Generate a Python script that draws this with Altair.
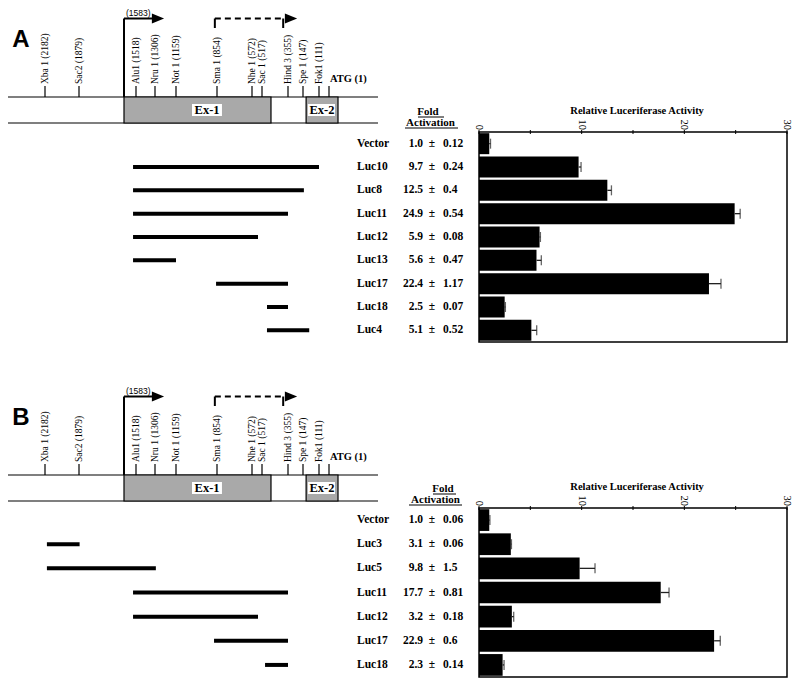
import altair as alt
import pandas as pd

# ---------------- data ----------------
# restriction sites on the promoter map (bp upstream of ATG)
site_labels = ["Xba 1 (2182)", "Sac2 (1879)", "Alu1 (1518)", "Nru 1 (1306)", "Not 1 (1159)",
               "Sma 1 (854)", "Nhe 1 (572)", "Sac 1 (517)", "Hind 3 (355)", "Spe 1 (147)", "Fok1 (111)"]
site_bp = [2182, 1879, 1518, 1306, 1159, 854, 572, 517, 355, 147, 111]
atg_bp = 1
tss_bp = 1583
tss_label = "(1583)"

# map is drawn schematically (not to scale): piecewise scale breakpoints
map_domain = [2182, 1879, 1583, 1518, 1306, 1159, 854, 572, 517, 355, 147, 111, 1]
map_range = [37, 71, 116, 128, 147, 168, 209, 244, 254, 280, 295, 311, 321]

backbone_bp = [2512, -538]
exon_names = ["Ex-1", "Ex-2"]
exon_start = [1583, 140]
exon_end = [461, -98]
exon_label_bp = [928, 78]
exon_box_start = [1040, 136]
exon_box_end = [814, -65]

arrow1_end = 1339
arrow1_head = 1285
arrow2_start = 870
arrow2_end = 385
arrow2_head = 313

# panel A
rows_A = ["Vector", "Luc10", "Luc8", "Luc11", "Luc12", "Luc13", "Luc17", "Luc18", "Luc4"]
fold_A = [1.0, 9.7, 12.5, 24.9, 5.9, 5.6, 22.4, 2.5, 5.1]
err_A = [0.12, 0.24, 0.4, 0.54, 0.08, 0.47, 1.17, 0.07, 0.52]
con_rows_A = ["Luc10", "Luc8", "Luc11", "Luc12", "Luc13", "Luc17", "Luc18", "Luc4"]
con_start_A = [1534, 1534, 1534, 1534, 1534, 861, 486, 486]
con_end_A = [111, 145, 355, 539, 1159, 355, 355, 133]

# panel B
rows_B = ["Vector", "Luc3", "Luc5", "Luc11", "Luc12", "Luc17", "Luc18"]
fold_B = [1.0, 3.1, 9.8, 17.7, 3.2, 22.9, 2.3]
err_B = [0.06, 0.06, 1.5, 0.81, 0.18, 0.6, 0.14]
con_rows_B = ["Luc3", "Luc5", "Luc11", "Luc12", "Luc17", "Luc18"]
con_start_B = [2165, 2165, 1534, 1534, 876, 498]
con_end_B = [1875, 1300, 355, 539, 355, 355]

axis_ticks = [0, 5, 10, 15, 20, 25, 30]
axis_labels = [0, 10, 20, 30]
x_title = "Relative Luceriferase Activity"
header_words = ["Fold", "Activation"]

SERIF = "Liberation Serif"
SANS = "Liberation Sans"
GRAY = "#a9a9a9"


# ---------------- helpers ----------------
def mapx(field):
    return alt.X(f"{field}:Q",
                 scale=alt.Scale(domain=map_domain, range=map_range, nice=False, zero=False),
                 axis=None)


def barx(field):
    return alt.X(f"{field}:Q", scale=alt.Scale(domain=[0, 30], range=[471, 779], nice=False),
                 axis=None)


def rowy(rows, rng):
    return alt.Y("row:N", scale=alt.Scale(domain=rows, range=rng, paddingInner=0.1, paddingOuter=0.05),
                 axis=None, sort=rows)


def map_layers(off, letter):
    L = []
    # backbone lines
    for yy in (89, 115):
        L.append(alt.Chart(pd.DataFrame({"a": [backbone_bp[0]], "b": [backbone_bp[1]]}))
                 .mark_rule(color="black", strokeWidth=1.2)
                 .encode(x=mapx("a"), x2="b:Q", y=alt.value(yy + off)))
    ex = pd.DataFrame({"name": exon_names, "s": exon_start, "e": exon_end,
                       "bs": exon_box_start, "be": exon_box_end, "c": exon_label_bp})
    L.append(alt.Chart(ex).mark_rect(fill=GRAY, stroke="black", strokeWidth=1.2)
             .encode(x=mapx("s"), x2="e:Q", y=alt.value(89 + off), y2=alt.value(115 + off)))
    L.append(alt.Chart(ex).mark_rect(fill="white")
             .encode(x=mapx("bs"), x2="be:Q", y=alt.value(96 + off), y2=alt.value(108 + off)))
    L.append(alt.Chart(ex).mark_text(font=SERIF, fontWeight="bold", fontSize=12.5, color="black",
                                     baseline="middle", align="center")
             .encode(x=mapx("c"), y=alt.value(102 + off), text="name:N"))
    # site ticks
    sites = pd.DataFrame({"bp": site_bp + [atg_bp], "label": site_labels + ["ATG  (1)"]})
    L.append(alt.Chart(sites).mark_rule(color="black", strokeWidth=1.2)
             .encode(x=mapx("bp"), y=alt.value(78 + off), y2=alt.value(89 + off)))
    L.append(alt.Chart(sites.iloc[:-1]).mark_text(font=SERIF, fontSize=9.5, angle=270, align="left",
                                                 baseline="middle", color="black")
             .encode(x=mapx("bp"), y=alt.value(76 + off), text="label:N"))
    L.append(alt.Chart(sites.iloc[-1:]).mark_text(font=SERIF, fontSize=10.5, fontWeight="bold",
                                                 align="left", baseline="middle", dx=1, color="black")
             .encode(x=mapx("bp"), y=alt.value(71 + off), text="label:N"))
    # transcription start arrow (solid)
    L.append(alt.Chart(pd.DataFrame({"a": [tss_bp]})).mark_rule(color="black", strokeWidth=2)
             .encode(x=mapx("a"), y=alt.value(10.5 + off), y2=alt.value(89 + off)))
    L.append(alt.Chart(pd.DataFrame({"a": [tss_bp], "b": [arrow1_end]})).mark_rule(color="black", strokeWidth=2)
             .encode(x=mapx("a"), x2="b:Q", y=alt.value(10.5 + off)))
    # dashed arrow
    L.append(alt.Chart(pd.DataFrame({"a": [arrow2_start], "b": [arrow2_end]}))
             .mark_rule(color="black", strokeWidth=2, strokeDash=[6, 4])
             .encode(x=mapx("a"), x2="b:Q", y=alt.value(10.5 + off)))
    L.append(alt.Chart(pd.DataFrame({"a": [arrow2_start, arrow2_end]})).mark_rule(color="black", strokeWidth=2)
             .encode(x=mapx("a"), y=alt.value(10.5 + off), y2=alt.value(20 + off)))
    # arrow heads
    L.append(alt.Chart(pd.DataFrame({"a": [arrow1_head, arrow2_head]}))
             .mark_point(shape="M-1,-0.8L1,0L-1,0.8Z", filled=True, size=150, color="black", opacity=1)
             .encode(x=mapx("a"), y=alt.value(10.5 + off)))
    L.append(alt.Chart(pd.DataFrame({"a": [tss_bp], "t": [tss_label]}))
             .mark_text(font=SANS, fontSize=8.5, align="left", baseline="middle", dx=2, color="black")
             .encode(x=mapx("a"), y=alt.value(4.5 + off), text="t:N"))
    L.append(alt.Chart(pd.DataFrame({"t": [letter]}))
             .mark_text(font=SANS, fontSize=24, fontWeight="bold", align="center", baseline="middle", color="black")
             .encode(x=alt.value(13), y=alt.value(32 + off), text="t:N"))
    return L


def data_layers(rows, fold, err, crows, cs, ce, rng, hdr):
    L = []
    y = rowy(rows, rng)
    top, bot = rng
    df = pd.DataFrame({"row": rows, "v": fold, "e": err,
                       "vs": [f"{v:.1f}" for v in fold], "es": [str(e) for e in err],
                       "pm": ["\u00b1"] * len(rows)})
    df["hi"] = df["v"] + df["e"]
    con = pd.DataFrame({"row": crows, "s": cs, "e": ce})
    # construct lines
    L.append(alt.Chart(con).mark_rule(color="black", strokeWidth=4, strokeCap="butt")
             .encode(x=mapx("s"), x2="e:Q", y=y))
    # labels and fold text
    txt = dict(font=SERIF, fontWeight="bold", fontSize=11.5, baseline="middle", color="black")
    L.append(alt.Chart(df).mark_text(align="left", **txt).encode(x=alt.value(349), y=y, text="row:N"))
    L.append(alt.Chart(df).mark_text(align="right", **txt).encode(x=alt.value(415), y=y, text="vs:N"))
    L.append(alt.Chart(df).mark_text(align="center", **txt).encode(x=alt.value(424), y=y, text="pm:N"))
    L.append(alt.Chart(df).mark_text(align="left", **txt).encode(x=alt.value(435), y=y, text="es:N"))
    # header "Fold Activation" with underlines
    for word, (hx, hy, u0, u1) in zip(header_words, hdr):
        L.append(alt.Chart(pd.DataFrame({"t": [word]}))
                 .mark_text(align="center", font=SERIF, fontWeight="bold", fontSize=11,
                            baseline="middle", color="black")
                 .encode(x=alt.value(hx), y=alt.value(hy), text="t:N"))
        L.append(alt.Chart(pd.DataFrame({"t": [word]})).mark_rule(color="black", strokeWidth=1)
                 .encode(x=alt.value(u0), x2=alt.value(u1), y=alt.value(hy + 5.5)))
    # bars
    L.append(alt.Chart(df).mark_bar(color="black").encode(x=barx("v"), y=y))
    L.append(alt.Chart(df).mark_rule(color="#222222", strokeWidth=1.3).encode(x=barx("v"), x2="hi:Q", y=y))
    L.append(alt.Chart(df).mark_tick(color="#222222", thickness=1.3, size=10, orient="vertical")
             .encode(x=barx("hi"), y=y))
    # frame
    L.append(alt.Chart(pd.DataFrame({"a": [0], "b": [30]}))
             .mark_rect(fillOpacity=0, stroke="black", strokeWidth=1.5)
             .encode(x=barx("a"), x2="b:Q", y=alt.value(top), y2=alt.value(bot)))
    # axis ticks and labels
    L.append(alt.Chart(pd.DataFrame({"t": axis_ticks})).mark_rule(color="black", strokeWidth=1)
             .encode(x=barx("t"), y=alt.value(top - 2), y2=alt.value(top + 2)))
    L.append(alt.Chart(pd.DataFrame({"t": axis_labels}))
             .mark_text(font=SERIF, fontSize=10.5, angle=90, align="right", baseline="middle", color="black")
             .encode(x=barx("t"), y=alt.value(top - 2), text="t:Q"))
    L.append(alt.Chart(pd.DataFrame({"t": [x_title], "m": [15.4]}))
             .mark_text(font=SERIF, fontSize=10.5, fontWeight="bold", align="center", baseline="middle",
                        color="black")
             .encode(x=barx("m"), y=alt.value(top - 21), text="t:N"))
    return L


OFF = 378
layers = []
layers += map_layers(0, "A")
layers += data_layers(rows_A, fold_A, err_A, con_rows_A, con_start_A, con_end_A, [124, 334],
                      ((420, 103.5, 410, 436), (422.5, 114.5, 397, 450)))
layers += map_layers(OFF, "B")
layers += data_layers(rows_B, fold_B, err_B, con_rows_B, con_start_B, con_end_B, [500, 669],
                      ((435, 480.5, 425, 448), (427.5, 491.5, 401, 454)))

chart = (alt.layer(*layers)
         .resolve_scale(x="independent", y="independent")
         .properties(width=784, height=672, padding=0,
                     autosize=alt.AutoSizeParams(type="none"), background="white")
         .configure_view(stroke=None))

chart.save("out.html", embed_options={"renderer": "svg", "actions": False})
